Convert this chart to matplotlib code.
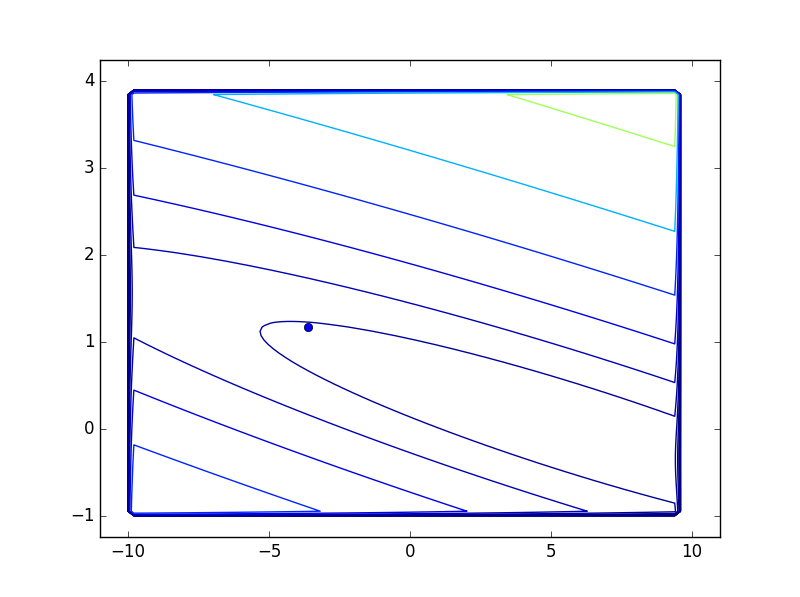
import numpy as np
import matplotlib
matplotlib.use('Agg')
import matplotlib.pyplot as plt

# Summary of the training set used by the cost function
mean_x = 8.1598
mean_y = 5.8391
var_x = 14.82
var_y = 30.05
cov_xy = 0.0

# Result of gradient descent
theta = [-3.6303, 1.1664]

# Grid of parameter values
theta0_vals = np.linspace(-10, 10, 100)
theta1_vals = np.linspace(-1, 4, 100)
levels = np.logspace(-2, 3, 20)


# Squared error cost for a given (theta0, theta1)
def cost(t0, t1):
    mean_r = t0 + t1 * mean_x - mean_y
    var_r = t1 ** 2 * var_x - 2 * t1 * cov_xy + var_y
    return 0.5 * (mean_r ** 2 + var_r)


# Only the inner cells get filled, the rest stays at zero
J_vals = np.zeros((len(theta0_vals), len(theta1_vals)))
for i in range(1, 97):
    for j in range(1, 97):
        J_vals[i, j] = cost(theta0_vals[i], theta1_vals[j])

plt.style.use('classic')
fig = plt.figure(figsize=(8, 5.97), dpi=100)
plt.contour(theta0_vals, theta1_vals, J_vals.T, levels, cmap='jet')
plt.plot(theta[0], theta[1], 'o', color='b', markeredgecolor='k', markersize=6)
plt.xlim(-11, 11)
plt.ylim(-1.25, 4.25)
plt.savefig('out.png', dpi=100, facecolor='w')
